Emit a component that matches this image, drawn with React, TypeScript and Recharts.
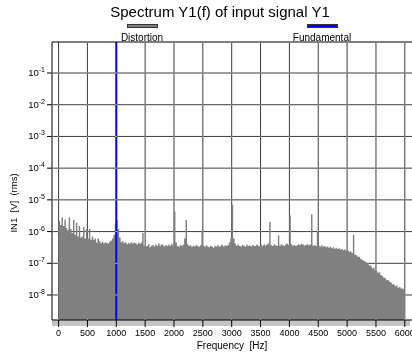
import React from 'react';
import { ComposedChart, Area, XAxis, YAxis, ReferenceLine } from 'recharts';

// spectrum bins every 25 Hz, amplitude in V rms
const binStep = 25;
const amp0to475 = [2.2e-6, 1.6e-6, 2.8e-6, 1.5e-6, 2.4e-6, 1.3e-6, 1.1e-6, 2.8e-6, 1.2e-6, 9e-7, 2.3e-6, 8e-7, 1.9e-6, 7e-7, 1.5e-6, 6.5e-7, 7e-7, 1.4e-6, 6e-7, 1.2e-6];
const amp500to975 = [6e-7, 1.2e-6, 5.5e-7, 7e-7, 5.5e-7, 6e-7, 4.5e-7, 6e-7, 5e-7, 4.3e-7, 4.8e-7, 4.2e-7, 4.6e-7, 4.4e-7, 4.2e-7, 4.8e-7, 5.2e-7, 6e-7, 8e-7, 1.8e-6];
const amp1000to1475 = [2.3e-6, 1.2e-6, 6.5e-7, 4.6e-7, 5e-7, 4.3e-7, 4.6e-7, 4e-7, 4.4e-7, 4.1e-7, 4.6e-7, 4.2e-7, 4.5e-7, 4.3e-7, 3.9e-7, 4.4e-7, 4.1e-7, 4.5e-7, 9e-7, 3.6e-7];
const amp1500to1975 = [3.4e-7, 3.5e-7, 4e-7, 3.2e-7, 3.6e-7, 3.8e-7, 3.4e-7, 3.9e-7, 3.5e-7, 4.2e-7, 3.6e-7, 4e-7, 3.7e-7, 3.4e-7, 3.8e-7, 3.5e-7, 3.9e-7, 3.6e-7, 4.1e-7, 3.7e-7];
const amp2000to2475 = [4.3e-6, 4.5e-7, 3.6e-7, 3.3e-7, 3.8e-7, 3.5e-7, 3.9e-7, 6e-7, 2.3e-6, 4e-7, 3.5e-7, 3.7e-7, 3.3e-7, 3.6e-7, 3.4e-7, 3.8e-7, 3.5e-7, 3.3e-7, 3.7e-7, 1.1e-6];
const amp2500to2975 = [3.6e-7, 3.3e-7, 3.7e-7, 3.4e-7, 3.2e-7, 3.6e-7, 3.3e-7, 3.1e-7, 3.5e-7, 3.4e-7, 3.7e-7, 3.3e-7, 3.6e-7, 3.9e-7, 3.4e-7, 3.7e-7, 3.5e-7, 3.8e-7, 4.5e-7, 6e-7];
const amp3000to3475 = [7e-6, 6e-7, 4.2e-7, 3.6e-7, 3.9e-7, 3.5e-7, 3.4e-7, 3.8e-7, 3.6e-7, 3.3e-7, 3.9e-7, 3.5e-7, 3.7e-7, 3.4e-7, 3.8e-7, 3.6e-7, 3.5e-7, 3.9e-7, 3.6e-7, 3.4e-7];
const amp3500to3975 = [3.8e-7, 3.5e-7, 4e-7, 3.6e-7, 3.9e-7, 4.2e-7, 2e-6, 3.7e-7, 3.5e-7, 4e-7, 3.7e-7, 3.5e-7, 7.5e-7, 3.6e-7, 4e-7, 3.7e-7, 3.5e-7, 3.9e-7, 4.2e-7, 3.8e-7];
const amp4000to4475 = [3.2e-6, 4e-7, 3.6e-7, 3.8e-7, 3.5e-7, 3.7e-7, 4e-7, 3.8e-7, 4.1e-7, 3.9e-7, 3.6e-7, 3.8e-7, 4e-7, 3.7e-7, 3.9e-7, 3.5e-6, 3.6e-7, 3.8e-7, 3.5e-7, 1e-6];
const amp4500to4975 = [3.6e-7, 3.4e-7, 3.7e-7, 3.3e-7, 3.5e-7, 3.2e-7, 3.4e-7, 3.1e-7, 3.3e-7, 3e-7, 3.2e-7, 2.9e-7, 3.1e-7, 2.8e-7, 3e-7, 2.7e-7, 2.9e-7, 2.6e-7, 2.7e-7, 2.5e-7];
const amp5000to5475 = [2.6e-7, 2.3e-7, 2.4e-7, 2.1e-7, 8e-7, 1.9e-7, 1.8e-7, 1.6e-7, 1.6e-7, 1.4e-7, 1.3e-7, 1.2e-7, 1.15e-7, 1e-7, 1.05e-7, 8.5e-8, 8.5e-8, 7e-8, 7.2e-8, 6e-8];
const amp5500to6000 = [5.8e-8, 5e-8, 5.2e-8, 4.3e-8, 4e-8, 3.5e-8, 3.4e-8, 2.9e-8, 3e-8, 2.6e-8, 2.5e-8, 2.2e-8, 2.2e-8, 1.9e-8, 2e-8, 1.7e-8, 1.8e-8, 1.6e-8, 1.6e-8, 1.5e-8, 1.5e-8];

const fundamentalHz = 1000;
const xTicks = [0, 500, 1000, 1500, 2000, 2500, 3000, 3500, 4000, 4500, 5000, 5500, 6000];
const yTicks = [1e-8, 1e-7, 1e-6, 1e-5, 1e-4, 1e-3, 1e-2, 1e-1];
const xDomain = [-114, 6142];
const yDomain = [1.63e-9, 0.95];
const seriesNames = ['Distortion', 'Fundamental'];

const amplitudes = [
  ...amp0to475, ...amp500to975, ...amp1000to1475, ...amp1500to1975,
  ...amp2000to2475, ...amp2500to2975, ...amp3000to3475, ...amp3500to3975,
  ...amp4000to4475, ...amp4500to4975, ...amp5000to5475, ...amp5500to6000,
];
const data = amplitudes.map((v, i) => ({ f: i * binStep, v }));

const FONT = '"Liberation Sans", Arial, sans-serif';
const GRAY = '#808080';
const BLUE = '#0000ff';
// light line + exclusion blend: dark on white, vanishes on the gray spectrum
const GRID_BLEND = '#c3c3c3';
const W = 413;
const H = 355;
const Y_AXIS_W = 52;
const X_AXIS_H = 35;
const TOP = 42;
const PLOT_W = W - Y_AXIS_W;
const PLOT_H = H - TOP - X_AXIS_H;
const X_TICK_SIZE = 7;
const X_TICK_MARGIN = 3;
const Y_TICK_SIZE = 5;
const Y_TICK_MARGIN = 2;

const XTick = ({ x, y, payload, index }: any) => {
  const axisY = y - X_TICK_SIZE - X_TICK_MARGIN;
  return (
    <g>
      {/* the fundamental line sits on this tick, so no grid line under it */}
      {payload.value !== fundamentalHz && (
        <line x1={x} x2={x} y1={axisY} y2={axisY - PLOT_H} stroke={GRID_BLEND} strokeWidth={1}
          style={{ mixBlendMode: 'exclusion' }} />
      )}
      {index === 0 && (
        <line x1={Y_AXIS_W} x2={W} y1={axisY - PLOT_H} y2={axisY - PLOT_H} stroke="#000" strokeWidth={1} />
      )}
      <text x={x} y={y} dy="0.71em" textAnchor="middle" fontSize={9} fontFamily={FONT} fill="#000">
        {payload.value}
      </text>
    </g>
  );
};

const PowerTick = ({ x, y, payload }: any) => {
  const exp = Math.round(Math.log10(payload.value));
  const axisX = x + Y_TICK_SIZE + Y_TICK_MARGIN;
  return (
    <g>
      <line x1={axisX} x2={axisX + PLOT_W} y1={y} y2={y} stroke={GRID_BLEND} strokeWidth={1}
        style={{ mixBlendMode: 'exclusion' }} />
      <text x={x} y={y} dy={3} textAnchor="end" fontSize={9.5} fontFamily={FONT} fill="#000">
        10<tspan dy={-4} fontSize={7}>{exp}</tspan>
      </text>
    </g>
  );
};

const YLabel = () => (
  <text x={17} y={203} transform="rotate(-90 17 203)" textAnchor="middle" fontSize={9.5}
    fontFamily={FONT} fill="#000" style={{ whiteSpace: 'pre' }}>
    {'IN1  [V]  (rms)'}
  </text>
);

const XLabel = ({ viewBox }: any) => (
  <text x={viewBox.x + viewBox.width / 2 - 0.5} y={349} textAnchor="middle" fontSize={10}
    fontFamily={FONT} fill="#000" style={{ whiteSpace: 'pre' }}>
    {'Frequency  [Hz]'}
  </text>
);

const LegendItem = ({ name, color, cx }: { name: string; color: string; cx: number }) => (
  <>
    <div style={{ position: 'absolute', left: cx - 15, top: 24, width: 29, height: 2, background: color, border: '1px solid #333' }} />
    <div style={{ position: 'absolute', left: cx - 50, top: 32, width: 100, textAlign: 'center', fontSize: 10, lineHeight: '12px' }}>{name}</div>
  </>
);

export default function App() {
  return (
    <div style={{ position: 'relative', width: 412, height: 355, overflow: 'hidden', fontFamily: FONT, background: '#fff' }}>
      <style>{'body{margin:0}'}</style>
      <div style={{ position: 'absolute', left: 20, top: 3, width: 400, textAlign: 'center', fontSize: 15, lineHeight: '17px' }}>
        Spectrum Y1(f) of input signal Y1
      </div>
      <LegendItem name={seriesNames[0]} color={GRAY} cx={142} />
      <LegendItem name={seriesNames[1]} color={BLUE} cx={322} />
      <div style={{ position: 'absolute', left: 52, top: 320, width: 358, height: 6, background: '#c4c4c4' }} />
      <ComposedChart width={W} height={H} data={data} margin={{ top: TOP, right: 0, bottom: 0, left: 0 }}
        style={{ position: 'absolute', left: 0, top: 0 }}>
        <XAxis type="number" dataKey="f" domain={xDomain} ticks={xTicks} allowDataOverflow
          height={X_AXIS_H} tickSize={X_TICK_SIZE} tickMargin={X_TICK_MARGIN} interval={0}
          tick={<XTick />} axisLine={{ stroke: '#000' }} tickLine={{ stroke: '#000' }}
          label={<XLabel />} />
        <YAxis type="number" scale="log" domain={yDomain} ticks={yTicks} allowDataOverflow
          width={Y_AXIS_W} tickSize={Y_TICK_SIZE} tickMargin={Y_TICK_MARGIN} interval={0}
          tick={<PowerTick />} axisLine={{ stroke: '#000' }} tickLine={{ stroke: '#000' }}
          label={<YLabel />} />
        <Area type="stepAfter" dataKey="v" name={seriesNames[0]} baseValue="dataMin"
          fill={GRAY} fillOpacity={1} stroke="none" isAnimationActive={false} />
        <ReferenceLine x={fundamentalHz} stroke={BLUE} strokeWidth={2} />
      </ComposedChart>
    </div>
  );
}
